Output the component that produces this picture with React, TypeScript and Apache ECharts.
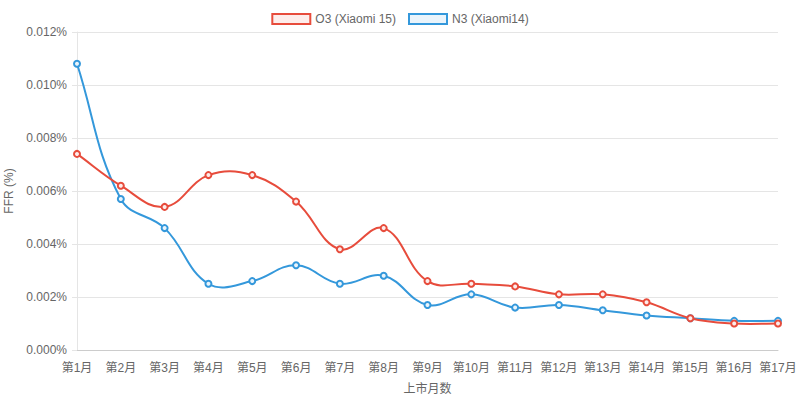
import React, { useEffect, useRef } from "react";
import * as echarts from "echarts";

const categories = ["第1月","第2月","第3月","第4月","第5月","第6月","第7月","第8月","第9月","第10月","第11月","第12月","第13月","第14月","第15月","第16月","第17月"];
const o3Values = [0.0074,0.0062,0.0054,0.0066,0.0066,0.0056,0.0038,0.0046,0.0026,0.0025,0.0024,0.0021,0.0021,0.0018,0.0012,0.0010,0.0010];
const n3Values = [0.0108,0.0057,0.0046,0.0025,0.0026,0.0032,0.0025,0.0028,0.0017,0.0021,0.0016,0.0017,0.0015,0.0013,0.0012,0.0011,0.0011];
const seriesNames = ["O3 (Xiaomi 15)", "N3 (Xiaomi14)"];
const yTicks = [0, 0.002, 0.004, 0.006, 0.008, 0.01, 0.012];

const FONT = "'Liberation Sans', Arial, 'Noto Sans CJK SC', sans-serif";
const RED = "#e74c3c";
const BLUE = "#3498db";
const TENSION = 0.4;

function curveSeries(values: number[], color: string, z: number) {
  return {
    type: "custom",
    z,
    silent: true,
    data: [[0, values[0]]],
    renderItem: (_params: any, api: any) => {
      const pts = values.map((v, i) => api.coord([i, v]));
      let d = `M${pts[0][0]},${pts[0][1]}`;
      const cps: number[][][] = pts.map((p, i) => {
        const prev = pts[i - 1] || p;
        const next = pts[i + 1] || p;
        const d01 = Math.hypot(p[0] - prev[0], p[1] - prev[1]);
        const d12 = Math.hypot(next[0] - p[0], next[1] - p[1]);
        let s01 = d01 / (d01 + d12);
        let s12 = d12 / (d01 + d12);
        if (!isFinite(s01)) s01 = 0;
        if (!isFinite(s12)) s12 = 0;
        const fa = TENSION * s01;
        const fb = TENSION * s12;
        return [
          [p[0] - fa * (next[0] - prev[0]), p[1] - fa * (next[1] - prev[1])],
          [p[0] + fb * (next[0] - prev[0]), p[1] + fb * (next[1] - prev[1])],
        ];
      });
      for (let i = 1; i < pts.length; i++) {
        const c1 = cps[i - 1][1];
        const c2 = cps[i][0];
        d += ` C${c1[0]},${c1[1]} ${c2[0]},${c2[1]} ${pts[i][0]},${pts[i][1]}`;
      }
      return {
        type: "path",
        shape: { pathData: d },
        style: { stroke: color, lineWidth: 2, fill: null },
      };
    },
  };
}

export default function App() {
  const ref = useRef<HTMLDivElement>(null);
  useEffect(() => {
    if (!ref.current) return;
    const chart = echarts.init(ref.current, undefined, { renderer: "svg" });
    const mk = (name: string, data: number[], color: string, fill: string, z: number) => ({
      name,
      type: "line",
      z,
      data,
      symbol: "circle",
      symbolSize: 6,
      showSymbol: true,
      lineStyle: { color, width: 0, opacity: 0 },
      itemStyle: { color: fill, borderColor: color, borderWidth: 2 },
      emphasis: { disabled: true },
    });
    chart.setOption({
      animation: false,
      textStyle: { fontFamily: FONT },
      legend: {
        top: 8,
        left: "center",
        itemWidth: 38,
        itemHeight: 10,
        itemGap: 12,
        textStyle: { color: "#666", fontSize: 12, fontFamily: FONT },
        data: [
          { name: seriesNames[0], icon: "rect", itemStyle: { color: "rgba(231,76,60,0.1)", borderColor: RED, borderWidth: 2 } },
          { name: seriesNames[1], icon: "rect", itemStyle: { color: "rgba(52,152,219,0.1)", borderColor: BLUE, borderWidth: 2 } },
        ],
      },
      grid: { left: 77, right: 22, top: 32, bottom: 51, containLabel: false, outerBoundsMode: "none" },
      xAxis: {
        type: "category",
        data: categories,
        boundaryGap: false,
        name: "上市月数",
        nameLocation: "middle",
        nameGap: 33,
        nameTextStyle: { color: "#666", fontSize: 12, fontFamily: FONT },
        axisLine: { lineStyle: { color: "#ccc" } },
        axisTick: { show: false },
        axisLabel: { color: "#666", fontSize: 12, margin: 12, fontFamily: FONT, interval: 0 },
        splitLine: { show: false },
      },
      yAxis: {
        type: "value",
        min: yTicks[0],
        max: yTicks[yTicks.length - 1],
        interval: yTicks[1] - yTicks[0],
        name: "FFR (%)",
        nameLocation: "middle",
        nameGap: 60,
        nameTextStyle: { color: "#666", fontSize: 12, fontFamily: FONT },
        axisLine: { show: true, lineStyle: { color: "#e5e5e5" } },
        axisTick: { show: true, length: 5, lineStyle: { color: "#e5e5e5" } },
        axisLabel: { color: "#666", fontSize: 12, margin: 10, fontFamily: FONT, formatter: (v: number) => v.toFixed(3) + "%" },
        splitLine: { lineStyle: { color: "#e5e5e5" } },
      },
      series: [
        curveSeries(n3Values, BLUE, 2),
        mk(seriesNames[1], n3Values, BLUE, "#eaf4fb", 3),
        curveSeries(o3Values, RED, 4),
        mk(seriesNames[0], o3Values, RED, "#fdeceb", 5),
      ],
    });
    return () => chart.dispose();
  }, []);
  return <div ref={ref} style={{ position: "fixed", left: 0, top: 0, width: 800, height: 401, background: "#fff" }} />;
}
